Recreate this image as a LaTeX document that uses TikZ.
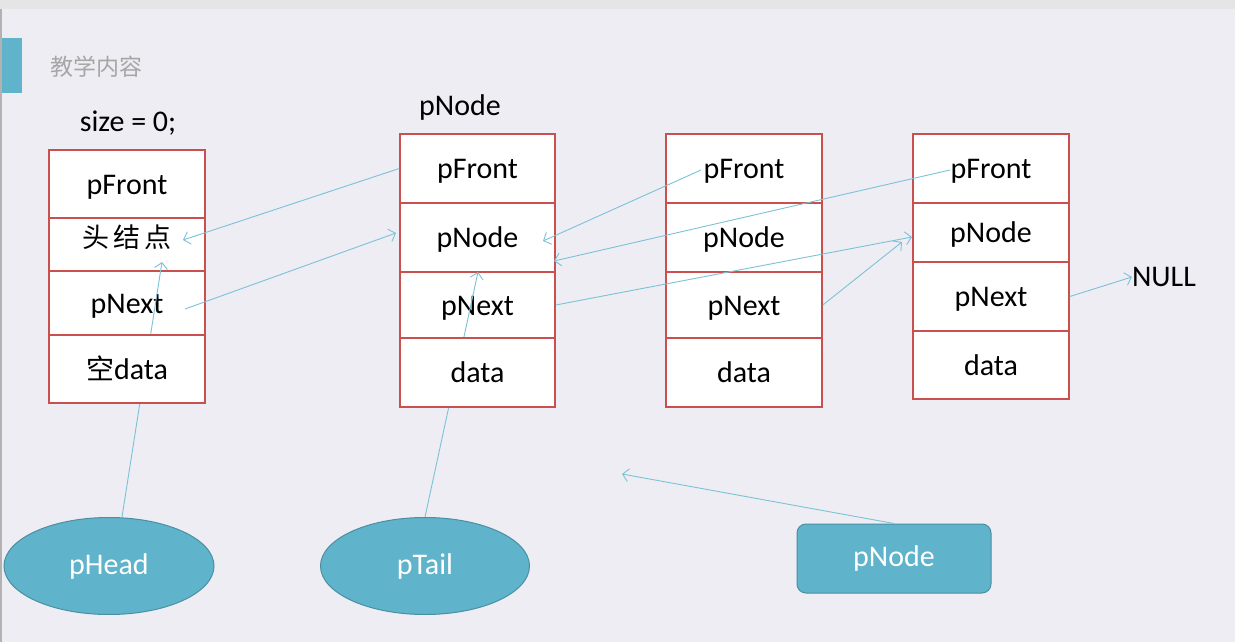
\documentclass[tikz,border=0pt]{standalone}
\usepackage{fontspec}
\setmainfont{Carlito}
\newfontfamily\cjk{Noto Sans CJK SC}
\usetikzlibrary{arrows.meta,shapes.geometric}
\definecolor{bg}{HTML}{EEEDF4}
\definecolor{cellred}{HTML}{C9504F}
\definecolor{link}{HTML}{7CC2D6}
\definecolor{teal}{HTML}{5FB3CB}
\definecolor{tealdark}{HTML}{4B8FA3}
\definecolor{titlegray}{HTML}{A6A6A6}
\tikzset{
  cell/.style={draw=cellred, fill=white, line width=1.6pt, inner sep=0pt, text height=26pt, text depth=6pt, font=\fontsize{30}{34}\selectfont},
  w1/.style={minimum width=156pt},
  lnk/.style={draw=link, line width=0.9pt},
  arr/.style={lnk, -{Straight Barb[length=6pt,width=13pt]}},
  ptr/.style={draw=tealdark, fill=teal, line width=1pt, text=white, font=\fontsize{30}{34}\selectfont},
  lbl/.style={inner sep=0pt, font=\fontsize{30}{34}\selectfont}
}
\begin{document}
\begin{tikzpicture}[x=1pt,y=-1pt]
\useasboundingbox (0,0) rectangle (1235,642);
\fill[bg] (0,0) rectangle (1235,642);
\fill[black!10] (0,0) rectangle (1235,9);
\fill[black!30] (0,9) rectangle (2,642);
\fill[teal] (2,38) rectangle (22,93);
\node[inner sep=0pt, text=titlegray, font=\cjk\fontsize{23}{26}\selectfont] (title) at (96,67) {教学内容};
\node[lbl] (size) at (128,123) {size = 0;};
\node[lbl] (plabel) at (460,108) {pNode};
\node[lbl] (null) at (1164,277) {NULL};

% pointer shapes
\node[ptr, ellipse, minimum width=210pt, minimum height=97pt, inner sep=0pt] (phead) at (109,566) {pHead};
\node[ptr, ellipse, minimum width=209pt, minimum height=97pt, inner sep=0pt] (ptail) at (425,566) {pTail};
\node[ptr, rounded corners=9pt, minimum width=194pt, minimum height=69pt, inner sep=0pt] (pnode) at (894,558.5) {pNode};

% box 1
\node[cell, w1, minimum height=68pt] (a1) at (127,184) {pFront};
\node[cell, w1, minimum height=53pt] (a2) at (127,244.5) {};
\node[lbl, font=\cjk\fontsize{27}{30}\selectfont] (a2t) at (127,237) {头\,结\,点};
\node[cell, w1, minimum height=64pt] (a3) at (127,303) {pNext};
\coordinate (hd) at (162,262);
\draw[arr] (phead.north) ++(13,0) coordinate (phs) -- (hd);
\node[cell, w1, minimum height=68pt] (a4) at (127,369) {{\cjk\fontsize{28}{30}\selectfont 空}data};

% box 2
\node[cell, minimum width=155pt, minimum height=69pt] (b1) at (477.5,168.5) {pFront};
\node[cell, minimum width=155pt, minimum height=69pt] (b2) at (477.5,237.5) {pNode};
\node[cell, minimum width=155pt, minimum height=66pt] (b3) at (477.5,305) {pNext};
\coordinate (td) at (478,272);
\draw[arr] (ptail.north) -- (td);
\node[cell, minimum width=155pt, minimum height=69pt] (b4) at (477.5,372.5) {data};

% box 3
\node[cell, w1, minimum height=69pt] (c1) at (744,168.5) {pFront};
\node[cell, w1, minimum height=69pt] (c2) at (744,237.5) {pNode};
\node[cell, w1, minimum height=66pt] (c3) at (744,305) {pNext};
\node[cell, w1, minimum height=69pt] (c4) at (744,372.5) {data};

% box 4
\node[cell, w1, minimum height=69pt] (d1) at (991,168.5) {pFront};
\node[cell, w1, minimum height=59pt] (d2) at (991,232.5) {pNode};
\node[cell, w1, minimum height=69pt] (d3) at (991,296.5) {pNext};
\node[cell, w1, minimum height=68pt] (d4) at (991,365) {data};

% connectors
\coordinate (e1) at (183,240);
\draw[arr] (b1.west) -- (e1);
\coordinate (s2) at (185,309);
\coordinate (e2) at (396,233);
\draw[arr] (s2) -- (e2);
\coordinate (s4) at (701,170);
\coordinate (e4) at (543,241);
\draw[arr] (s4) -- (e4);
\coordinate (s5) at (950,170);
\coordinate (e5) at (554,261);
\draw[arr] (s5) -- (e5);
\coordinate (e6) at (912,237);
\draw[arr] (b3.east) -- (e6);
\coordinate (e7) at (902,242);
\draw[arr] (c3.east) -- (e7);
\draw[arr] (d3.east) -- (null.west);
\coordinate (e9) at (622,474);
\draw[arr] (pnode.north) -- (e9);
\end{tikzpicture}
\end{document}
